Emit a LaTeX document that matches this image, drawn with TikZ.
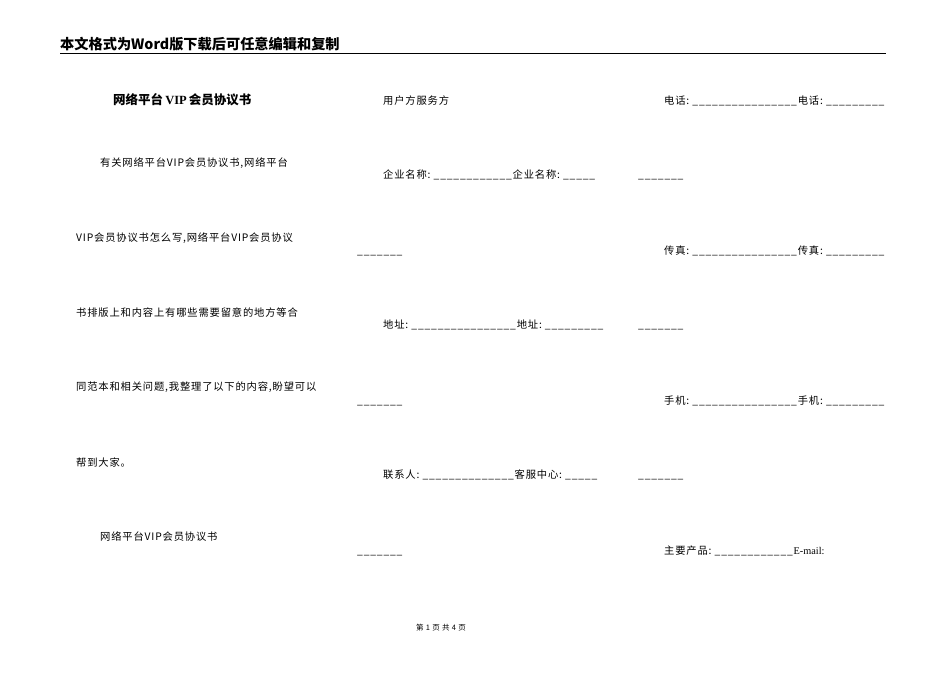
\documentclass[tikz,border=0pt]{standalone}
\usepackage{fontspec}
\setmainfont{Liberation Serif}
\newfontfamily\cjk[LetterSpace=8]{Noto Sans CJK SC}
\newfontfamily\cjkb{Noto Sans CJK SC}
\begin{document}
\begin{tikzpicture}[x=1pt,y=-1pt,
  t/.style={anchor=base west,inner sep=0pt,font=\cjk\fontsize{10.3}{11}\selectfont},
  tb/.style={t,font=\cjkb\bfseries\fontsize{12.5}{13}\selectfont}]
\useasboundingbox (0,0) rectangle (950,672);
\node[tb,font=\cjkb\bfseries\fontsize{14.2}{15}\selectfont] (hdr) at (60,49) {本文格式为Word版下载后可任意编辑和复制};
\draw[line width=0.8pt] (60,53) -- (886,53);
\node[tb] (title) at (113,104) {网络平台\,\textrm{VIP}\,会员协议书};
\node[t] (a1) at (383,104) {用户方服务方};
\node[t] (a2) at (664,104) {电话:\ \_\_\_\_\_\_\_\_\_\_\_\_\_\_\_\_电话:\ \_\_\_\_\_\_\_\_\_};
\node[t] (p1) at (100,166) {有关网络平台VIP会员协议书,网络平台};
\node[t] (b1) at (383,178) {企业名称:\ \_\_\_\_\_\_\_\_\_\_\_\_企业名称:\ \_\_\_\_\_};
\node[t] (b2) at (638,178) {\_\_\_\_\_\_\_};
\node[t] (p2) at (76,241) {VIP会员协议书怎么写,网络平台VIP会员协议};
\node[t] (c1) at (357,254) {\_\_\_\_\_\_\_};
\node[t] (c2) at (664,254) {传真:\ \_\_\_\_\_\_\_\_\_\_\_\_\_\_\_\_传真:\ \_\_\_\_\_\_\_\_\_};
\node[t] (p3) at (76,316) {书排版上和内容上有哪些需要留意的地方等合};
\node[t] (d1) at (383,328) {地址:\ \_\_\_\_\_\_\_\_\_\_\_\_\_\_\_\_地址:\ \_\_\_\_\_\_\_\_\_};
\node[t] (d2) at (638,328) {\_\_\_\_\_\_\_};
\node[t] (p4) at (76,390) {同范本和相关问题,我整理了以下的内容,盼望可以};
\node[t] (e1) at (357,404) {\_\_\_\_\_\_\_};
\node[t] (e2) at (664,404) {手机:\ \_\_\_\_\_\_\_\_\_\_\_\_\_\_\_\_手机:\ \_\_\_\_\_\_\_\_\_};
\node[t] (p5) at (76,466) {帮到大家。};
\node[t] (f1) at (383,478) {联系人:\ \_\_\_\_\_\_\_\_\_\_\_\_\_\_客服中心:\ \_\_\_\_\_};
\node[t] (f2) at (638,478) {\_\_\_\_\_\_\_};
\node[t] (p6) at (100,540) {网络平台VIP会员协议书};
\node[t] (g1) at (357,554) {\_\_\_\_\_\_\_};
\node[t] (g2) at (664,554) {主要产品:\ \_\_\_\_\_\_\_\_\_\_\_\_\textrm{E-mail:}};
\node[anchor=base,inner sep=0pt,font=\cjk\fontsize{7.5}{8}\selectfont] (ft) at (441,630) {第 1 页 共 4 页};
\end{tikzpicture}
\end{document}
